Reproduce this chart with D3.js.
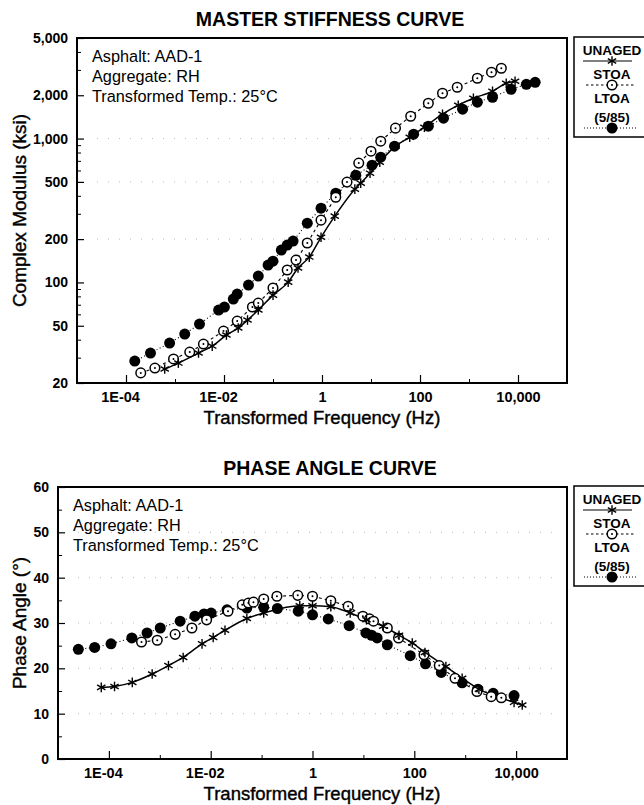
<!DOCTYPE html>
<html>
<head>
<meta charset="utf-8">
<script src="https://cdn.jsdelivr.net/npm/d3@7"></script>
<style>
  body { margin: 0; background: #fff; }
  svg { display: block; font-family: "Liberation Sans", Arial, sans-serif; }
</style>
</head>
<body>
<div id="chart"></div>
<script>
// Master stiffness curve (complex modulus, ksi) vs transformed frequency (Hz)
const stiffUnagedFreq = [6.17e-4, 1.17e-3, 3.02e-3, 5.75e-3, 1.12e-2, 1.95e-2, 3.02e-2, 5.01e-2, 0.1, 0.204, 0.324, 0.55, 0.955, 1.82, 4.68, 6.17, 9.55, 15.1, 31.6, 61.7, 123, 288, 603, 1230, 3020, 5750, 8710];
const stiffUnaged = [25.0, 27.5, 32.3, 36.1, 43.1, 48.2, 54.8, 64.3, 81.6, 100.5, 126, 150, 206, 289, 445, 490, 575, 685, 885, 1021, 1199, 1476, 1706, 1906, 2132, 2422, 2500];

const stiffStoaFreq = [2.0e-4, 3.89e-4, 9.33e-4, 2.0e-3, 3.8e-3, 9.77e-3, 1.86e-2, 3.8e-2, 5.01e-2, 0.1, 0.195, 0.295, 0.501, 0.955, 1.91, 3.24, 5.62, 10, 15.8, 31.6, 64.6, 148, 288, 575, 1480, 2880, 4570];
const stiffStoa = [23.5, 25.4, 29.4, 32.8, 37.3, 45.9, 53.9, 67.5, 71.9, 91.5, 122, 143, 188, 271, 391, 498, 675, 817, 959, 1181, 1430, 1760, 2065, 2274, 2627, 2893, 3080];

const stiffLtoaFreq = [1.51e-4, 3.16e-4, 7.76e-4, 1.58e-3, 3.16e-3, 7.76e-3, 1.02e-2, 1.55e-2, 1.86e-2, 3.16e-2, 5.01e-2, 7.94e-2, 0.1, 0.148, 0.195, 0.257, 0.501, 0.955, 1.91, 4.9, 10.5, 15.8, 30.2, 74.1, 148, 302, 741, 1480, 3020, 7240, 14800, 22400];
const stiffLtoa = [28.4, 32.3, 37.9, 43.8, 51.4, 64.3, 67.4, 76.6, 83, 95.9, 110.7, 132, 140.6, 168, 182, 194, 258, 328, 417, 556, 653, 742, 885, 1072, 1219, 1385, 1600, 1790, 1937, 2202, 2384, 2461];

// Phase angle curve (degrees) vs transformed frequency (Hz)
const phaseUnagedFreq = [7.08e-5, 1.29e-4, 2.88e-4, 7.08e-4, 1.48e-3, 2.88e-3, 6.76e-3, 1.12e-2, 1.91e-2, 5.13e-2, 0.11, 0.562, 1.0, 2.29, 5.5, 11.5, 24.5, 50.1, 91.2, 162, 417, 871, 1860, 9120, 13200];
const phaseUnaged = [15.8, 16.0, 16.9, 18.75, 20.6, 22.4, 25.4, 26.8, 28.4, 31.0, 32.2, 33.8, 33.8, 33.6, 32.2, 30.7, 29.3, 27.3, 25.6, 23.5, 20.4, 17.8, 15.4, 12.5, 11.9];

const phaseStoaFreq = [4.37e-4, 8.91e-4, 2.0e-3, 4.27e-3, 8.32e-3, 2.19e-2, 4.17e-2, 5.5e-2, 6.92e-2, 0.11, 0.2, 0.513, 1.0, 2.29, 5.01, 9.77, 13.2, 15.8, 29.5, 49.0, 155, 309, 631, 1700, 3240, 5130];
const phaseStoa = [25.8, 26.2, 27.5, 28.9, 30.7, 32.6, 34.0, 34.4, 34.6, 35.3, 35.9, 36.1, 35.9, 34.9, 33.7, 31.5, 30.9, 30.4, 28.9, 26.7, 23.0, 20.6, 17.8, 14.9, 13.75, 13.5];

const phaseLtoaFreq = [2.51e-5, 5.25e-5, 1.1e-4, 2.82e-4, 5.62e-4, 1.02e-3, 2.51e-3, 4.9e-3, 7.41e-3, 1.02e-2, 2.09e-2, 5.13e-2, 0.11, 0.204, 0.525, 1.0, 2.04, 5.25, 11.2, 14.5, 18.6, 29.5, 83.2, 166, 339, 871, 1780, 3550, 9120];
const phaseLtoa = [24.2, 24.6, 25.4, 26.7, 27.8, 28.9, 30.4, 31.5, 32.0, 32.2, 32.9, 33.3, 33.5, 33.2, 32.6, 31.8, 30.9, 29.4, 27.8, 27.3, 26.7, 25.2, 22.8, 21.0, 19.1, 16.8, 15.4, 14.5, 14.0];

// tick labels
const freqTicks = [1e-4, 1e-2, 1, 100, 10000];
const freqTickLabels = ["1E-04", "1E-02", "1", "100", "10,000"];
const freqMinorTicks = [1e-3, 1e-1, 10, 1000];
const stiffTicks = [20, 50, 100, 200, 500, 1000, 2000, 5000];
const stiffTickLabels = ["20", "50", "100", "200", "500", "1,000", "2,000", "5,000"];
const phaseTicks = [0, 10, 20, 30, 40, 50, 60];
const infoLines = ["Asphalt: AAD-1", "Aggregate: RH", "Transformed Temp.: 25\u00B0C"];
const legendNames = ["UNAGED", "STOA", "LTOA", "(5/85)"];

document.addEventListener("DOMContentLoaded", function() {
  const svg = d3.select("#chart")
    .append("svg")
    .attr("width", 644)
    .attr("height", 805);

  function star(g, x, y) {
    const r = 4.8;
    [90, 30, 150].forEach(a => {
      const dx = r * Math.cos(a * Math.PI / 180), dy = r * Math.sin(a * Math.PI / 180);
      g.append("line")
        .attr("x1", x - dx).attr("y1", y - dy)
        .attr("x2", x + dx).attr("y2", y + dy)
        .attr("stroke", "#000").attr("stroke-width", 1.4);
    });
  }
  function openCircle(g, x, y) {
    g.append("circle").attr("cx", x).attr("cy", y).attr("r", 4.8)
      .attr("fill", "#fff").attr("stroke", "#000").attr("stroke-width", 1.5);
    g.append("circle").attr("cx", x).attr("cy", y).attr("r", 1).attr("fill", "#000");
  }
  function filledCircle(g, x, y) {
    g.append("circle").attr("cx", x).attr("cy", y).attr("r", 5.5).attr("fill", "#000");
  }

  function drawPanel(p) {
    const x = d3.scaleLog().domain([1e-5, 1e5]).range([p.left, p.right]);
    const y = p.yScale.range([p.bottom, p.top]);
    const g = svg.append("g");

    // faint dotted grid
    g.selectAll(".grid")
      .data(p.gridValues)
      .enter()
      .append("line")
      .attr("x1", p.left + 20).attr("x2", p.right - 10)
      .attr("y1", d => y(d)).attr("y2", d => y(d))
      .attr("stroke", "#aaa").attr("stroke-width", 0.8)
      .attr("stroke-dasharray", "1,10");

    // axes (ticks inside)
    g.append("g")
      .attr("transform", `translate(0,${p.bottom})`)
      .call(d3.axisBottom(x).tickValues(freqTicks).tickSize(-8).tickFormat((d, i) => freqTickLabels[i]).tickPadding(9))
      .call(a => a.select(".domain").remove())
      .call(a => a.selectAll("text").attr("font-size", 14.5).attr("font-weight", "bold").attr("fill", "#000")
        .attr("dx", (d, i) => freqTickLabels[i].includes("E") ? -6 : 0))
      .call(a => a.selectAll("line").attr("stroke-width", 1.2));
    g.append("g")
      .attr("transform", `translate(0,${p.bottom})`)
      .call(d3.axisBottom(x).tickValues(freqMinorTicks).tickSize(-4).tickFormat(""))
      .call(a => a.select(".domain").remove());

    g.append("g")
      .attr("transform", `translate(${p.left},0)`)
      .call(d3.axisLeft(y).tickValues(p.yTicks).tickSize(-7).tickFormat((d, i) => p.yTickLabels[i]).tickPadding(9))
      .call(a => a.select(".domain").remove())
      .call(a => a.selectAll("text").attr("font-size", 14).attr("font-weight", "bold").attr("fill", "#000"))
      .call(a => a.selectAll("line").attr("stroke-width", 1.2));
    g.append("g")
      .attr("transform", `translate(${p.left},0)`)
      .call(d3.axisLeft(y).tickValues(p.yMinor).tickSize(-4).tickFormat(""))
      .call(a => a.select(".domain").remove());

    // frame
    g.append("rect")
      .attr("x", p.left).attr("y", p.top)
      .attr("width", p.right - p.left).attr("height", p.bottom - p.top)
      .attr("fill", "none").attr("stroke", "#000").attr("stroke-width", 2);

    // title and axis labels
    g.append("text").attr("x", 330).attr("y", p.top - 12)
      .attr("text-anchor", "middle").attr("font-size", 19.5).attr("font-weight", "bold")
      .text(p.title);
    g.append("text").attr("x", 322).attr("y", p.bottom + 41)
      .attr("text-anchor", "middle").attr("font-size", 18.5)
      .attr("stroke", "#000").attr("stroke-width", 0.4)
      .text("Transformed Frequency (Hz)");
    g.append("text")
      .attr("transform", `translate(${p.yLabelX},${(p.top + p.bottom) / 2}) rotate(-90)`)
      .attr("text-anchor", "middle").attr("font-size", 19)
      .attr("stroke", "#000").attr("stroke-width", 0.4)
      .text(p.yLabel);

    g.selectAll(".info")
      .data(infoLines)
      .enter()
      .append("text")
      .attr("x", p.left + 15)
      .attr("y", (d, i) => p.top + 24 + i * 20)
      .attr("font-size", 16.3)
      .text(d => d);

    // series lines
    const line = d3.line()
      .x(d => x(d[0])).y(d => y(d[1]));
    const fit = d3.line().curve(d3.curveMonotoneX)
      .x(d => x(d[0])).y(d => y(d[1]));

    g.append("path").datum(d3.zip(p.ltoaFreq, p.ltoa))
      .attr("d", line).attr("fill", "none").attr("stroke", "#000")
      .attr("stroke-width", 1.1).attr("stroke-dasharray", "1,2.5");
    g.append("path").datum(d3.zip(p.stoaFreq, p.stoa))
      .attr("d", line).attr("fill", "none").attr("stroke", "#000")
      .attr("stroke-width", 1.1).attr("stroke-dasharray", "3,3");
    g.append("path").datum(d3.zip(p.unagedFreq, p.unaged))
      .attr("d", fit).attr("fill", "none").attr("stroke", "#000")
      .attr("stroke-width", 1.5);

    // markers
    const mk = g.append("g");
    d3.zip(p.ltoaFreq, p.ltoa).forEach(d => filledCircle(mk, x(d[0]), y(d[1])));
    d3.zip(p.stoaFreq, p.stoa).forEach(d => openCircle(mk, x(d[0]), y(d[1])));
    d3.zip(p.unagedFreq, p.unaged).forEach(d => star(mk, x(d[0]), y(d[1])));

    // legend box
    const lg = g.append("g").attr("transform", `translate(574,${p.top - 1})`);
    lg.append("rect").attr("x", 0).attr("y", 0).attr("width", 90).attr("height", 100)
      .attr("fill", "#fff").attr("stroke", "#000").attr("stroke-width", 1.5);
    const lx = 38;
    lg.selectAll("text")
      .data(legendNames)
      .enter()
      .append("text")
      .attr("x", lx)
      .attr("y", (d, i) => [18, 42, 66, 85][i])
      .attr("text-anchor", "middle")
      .attr("font-size", 13.5)
      .attr("font-weight", "bold")
      .text(d => d);
    lg.append("line").attr("x1", 9).attr("x2", 58).attr("y1", 24).attr("y2", 24)
      .attr("stroke", "#000").attr("stroke-width", 1.2);
    star(lg, lx, 24);
    lg.append("line").attr("x1", 12).attr("x2", 62).attr("y1", 48).attr("y2", 48)
      .attr("stroke", "#000").attr("stroke-width", 1).attr("stroke-dasharray", "2.5,2.5");
    openCircle(lg, lx, 48);
    lg.append("line").attr("x1", 10).attr("x2", 62).attr("y1", 91).attr("y2", 91)
      .attr("stroke", "#000").attr("stroke-width", 1).attr("stroke-dasharray", "1,2");
    filledCircle(lg, lx, 91);
  }

  const stiffMinor = [30, 40, 60, 70, 80, 90, 300, 400, 600, 700, 800, 900, 3000, 4000];

  drawPanel({
    left: 77, right: 567, top: 38, bottom: 383, yLabelX: 26,
    yScale: d3.scaleLog().domain([20, 5000]),
    yTicks: stiffTicks, yTickLabels: stiffTickLabels, yMinor: stiffMinor,
    gridValues: [200, 500, 1000],
    title: "MASTER STIFFNESS CURVE",
    yLabel: "Complex Modulus (ksi)",
    unagedFreq: stiffUnagedFreq, unaged: stiffUnaged,
    stoaFreq: stiffStoaFreq, stoa: stiffStoa,
    ltoaFreq: stiffLtoaFreq, ltoa: stiffLtoa
  });

  drawPanel({
    left: 58, right: 567, top: 487, bottom: 759, yLabelX: 26,
    yScale: d3.scaleLinear().domain([0, 60]),
    yTicks: phaseTicks, yTickLabels: phaseTicks.map(String), yMinor: [5, 15, 25, 35, 45, 55],
    gridValues: [10, 20, 30, 40, 50],
    title: "PHASE ANGLE CURVE",
    yLabel: "Phase Angle (\u00B0)",
    unagedFreq: phaseUnagedFreq, unaged: phaseUnaged,
    stoaFreq: phaseStoaFreq, stoa: phaseStoa,
    ltoaFreq: phaseLtoaFreq, ltoa: phaseLtoa
  });
});
</script>
</body>
</html>
